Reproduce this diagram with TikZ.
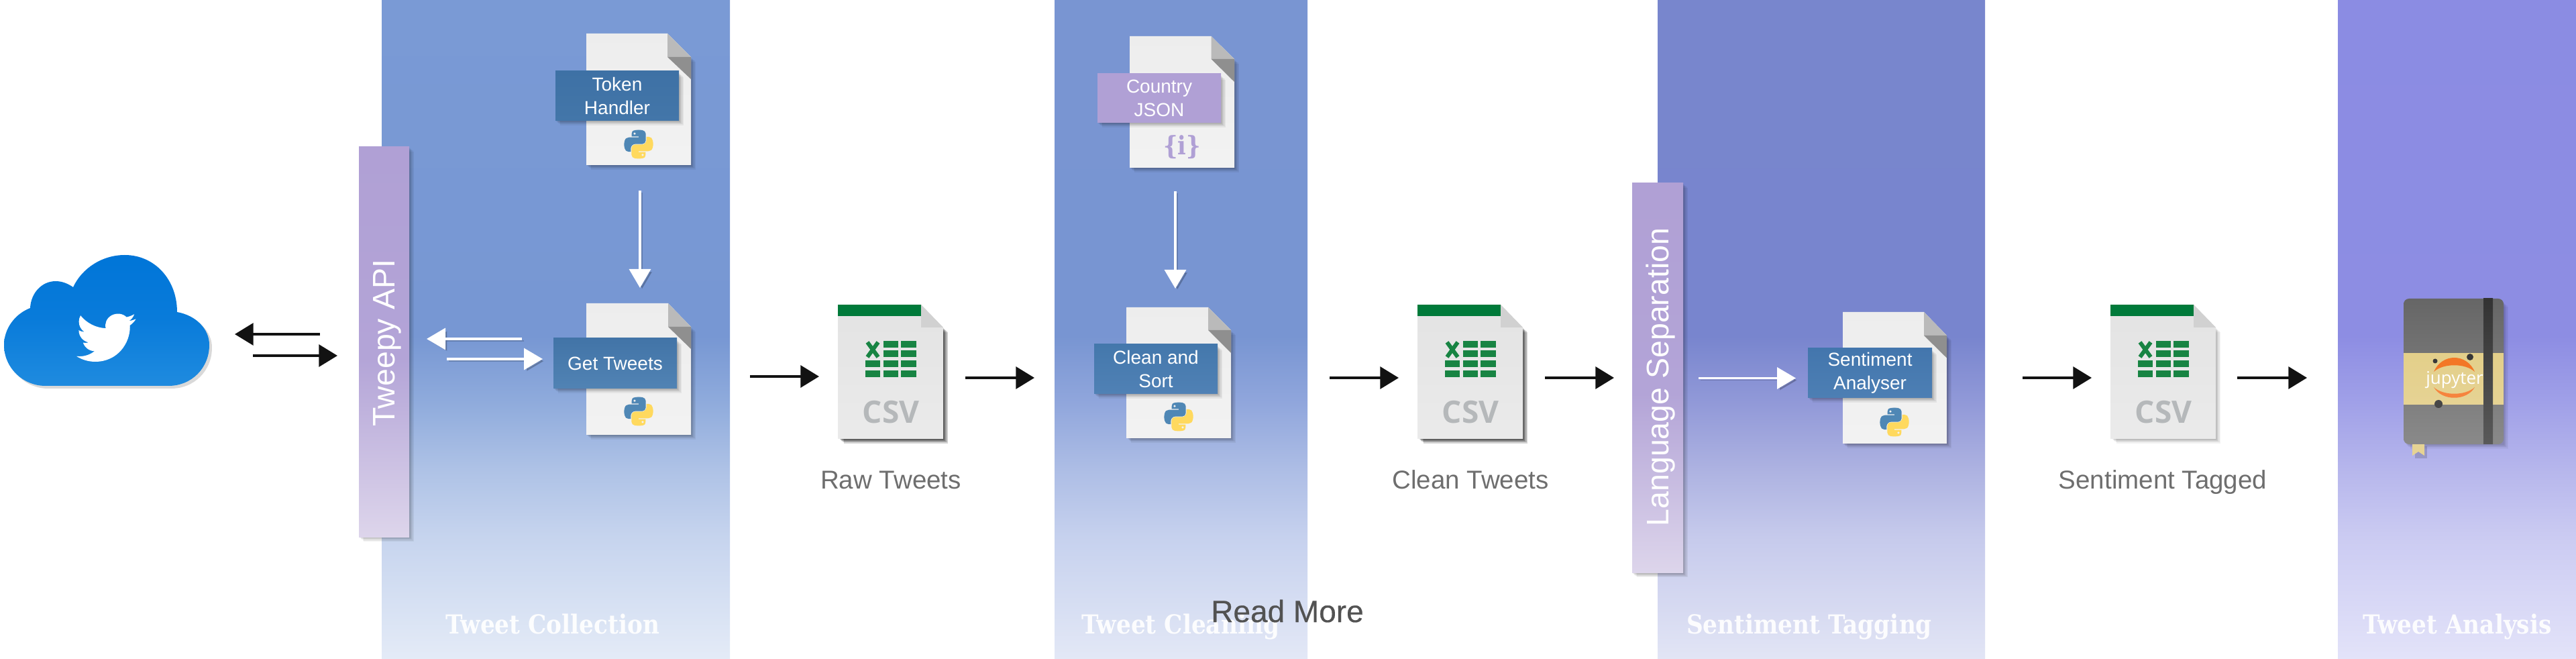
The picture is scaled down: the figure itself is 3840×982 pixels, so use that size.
\documentclass[tikz,border=0pt]{standalone}
\usepackage{fontspec}
\setmainfont{Liberation Sans}
\newfontfamily\slabfont{DejaVu Serif}[FakeStretch=0.88]
\newfontfamily\csvfont{Open Sans}
\newfontfamily\medfont{Liberation Sans}[FakeBold=0.4]
\usetikzlibrary{arrows.meta}
\newcommand\fpx[1]{\fontsize{\dimexpr #1pt/4\relax}{\dimexpr #1pt*125/400\relax}\selectfont}
\definecolor{aT}{HTML}{7A9AD5}\definecolor{aM}{HTML}{7797D3}\definecolor{aA}{HTML}{8FABDC}\definecolor{aB}{HTML}{AEC2E6}\definecolor{aC}{HTML}{C6D4EE}\definecolor{aD}{HTML}{E4EBF7}
\definecolor{bT}{HTML}{7995D2}\definecolor{bM}{HTML}{7895D2}\definecolor{bA}{HTML}{90A6DC}\definecolor{bB}{HTML}{ADBDE5}\definecolor{bC}{HTML}{C6D1EE}\definecolor{bD}{HTML}{E3E8F6}
\definecolor{cT}{HTML}{7886CD}\definecolor{cM}{HTML}{7885CE}\definecolor{cA}{HTML}{9199D8}\definecolor{cB}{HTML}{ADB2E1}\definecolor{cC}{HTML}{C6CAEC}\definecolor{cD}{HTML}{E2E5F5}
\definecolor{dT}{HTML}{8B8CE3}\definecolor{dM}{HTML}{8D8DE3}\definecolor{dA}{HTML}{A0A0E8}\definecolor{dB}{HTML}{B6B6EC}\definecolor{dC}{HTML}{CBCBF2}\definecolor{dD}{HTML}{E3E3F9}
\definecolor{barT}{HTML}{B0A0D5}\definecolor{barM}{HTML}{B3A4D7}\definecolor{barB}{HTML}{DDD5EB}
\definecolor{cloudT}{HTML}{0075D8}\definecolor{cloudB}{HTML}{1F8BDF}
\definecolor{csvgreen}{HTML}{007A3A}\definecolor{csvcell}{HTML}{188443}
\definecolor{csvword}{HTML}{B5B8BA}\definecolor{grayword}{HTML}{6E6E6E}
\definecolor{pyblue}{HTML}{4F87B5}\definecolor{pyyellow}{HTML}{FFD95E}
\definecolor{labAt}{HTML}{3E71A5}\definecolor{labAb}{HTML}{4376A9}
\definecolor{labBt}{HTML}{4274A7}\definecolor{labBb}{HTML}{5183B4}
\definecolor{labCt}{HTML}{4478AC}\definecolor{labCb}{HTML}{5081B5}
\definecolor{labDt}{HTML}{4376AD}\definecolor{labDb}{HTML}{4D7FB4}
\definecolor{tanT}{HTML}{E3CF8A}\definecolor{tanB}{HTML}{E6D394}
\definecolor{oranT}{HTML}{F37726}\definecolor{oranB}{HTML}{F6843E}
\pgfdeclareverticalshading{bandA}{100bp}{color(0bp)=(aD);color(25bp)=(aD);color(34.3bp)=(aC);color(39.4bp)=(aB);color(44.5bp)=(aA);color(49.5bp)=(aM);color(75bp)=(aT);color(100bp)=(aT)}
\pgfdeclareverticalshading{bandB}{100bp}{color(0bp)=(bD);color(25bp)=(bD);color(34.3bp)=(bC);color(39.4bp)=(bB);color(44.5bp)=(bA);color(49.5bp)=(bM);color(75bp)=(bT);color(100bp)=(bT)}
\pgfdeclareverticalshading{bandC}{100bp}{color(0bp)=(cD);color(25bp)=(cD);color(34.3bp)=(cC);color(39.4bp)=(cB);color(44.5bp)=(cA);color(49.5bp)=(cM);color(75bp)=(cT);color(100bp)=(cT)}
\pgfdeclareverticalshading{bandD}{100bp}{color(0bp)=(dD);color(25bp)=(dD);color(34.3bp)=(dC);color(39.4bp)=(dB);color(44.5bp)=(dA);color(49.5bp)=(dM);color(75bp)=(dT);color(100bp)=(dT)}
\pgfdeclareverticalshading{barshade}{100bp}{color(0bp)=(barB);color(25bp)=(barB);color(48bp)=(barM);color(75bp)=(barT);color(100bp)=(barT)}
\tikzset{
  x=0.25pt,y=-0.25pt,
  blackarrow/.style={draw=black!93,line width=0.9pt,-{Triangle[length=6.9pt,width=8.2pt]}},
  whitearrow/.style={draw=white,line width=0.85pt,-{Triangle[length=7pt,width=8pt]},
    preaction={draw=black,opacity=.16,transform canvas={shift={(0.8pt,-0.8pt)}}}},
  bandtitle/.style={font=\slabfont\bfseries\fpx{39},text=white,text opacity=.93,inner sep=0pt,anchor=base},
  bartext/.style={rotate=90,text=white,font=\fpx{46.5},inner sep=0pt,anchor=base},
  caption/.style={text=grayword,font=\fpx{38.5},inner sep=0pt,anchor=base},
  labbox/.style n args={4}{top color=#3,bottom color=#4,text=white,font=\fpx{28},align=center,inner sep=0pt,
    minimum width=#1*0.25pt,minimum height=#2*0.25pt},
}
\newcommand\softshadow[5]{%
  \foreach \i in {1,...,6}{\fill[black,opacity=#5] ({#1+\i*1.1},{#2+\i*1.1}) rectangle ({#3+\i*1.1},{#4+\i*1.1});}}
\newcommand\pylogo[2]{%
  \begin{scope}[shift={(#1-21.5,#2-21.5)},x=0.0977pt,y=-0.0977pt]
    \foreach \rot/\col in {0/pyblue,180/pyyellow}{
    \begin{scope}[rotate around={\rot:(55,55)}]
    \fill[\col,even odd rule] (54.9,0) .. controls (50.3,0) and (45.9,.4) .. (42,1.1)
      .. controls (30.6,3.1) and (28.5,7.3) .. (28.5,15) -- (28.5,25.2) -- (55.5,25.2) -- (55.5,28.6) -- (18.4,28.6)
      .. controls (10.5,28.6) and (3.6,33.3) .. (1.5,42.3)
      .. controls (-1,52.6) and (-1.1,59) .. (1.5,69.7)
      .. controls (3.4,77.7) and (8,83.3) .. (15.9,83.3) -- (25.2,83.3) -- (25.2,71)
      .. controls (25.2,62) and (33,54.1) .. (42,54.1) -- (69,54.1)
      .. controls (76.4,54.1) and (82.3,48) .. (82.3,40.6) -- (82.3,15)
      .. controls (82.3,7.7) and (76.2,2.3) .. (69,1.1)
      .. controls (64.4,.3) and (59.6,0) .. (54.9,0) -- cycle
      (39.7,14.4) circle[radius=5];
    \end{scope}}
  \end{scope}}
% x1 y1 x2 y2 foldx foldy foldy2
\newcommand\filedoc[7]{%
  \softshadow{#1}{#6}{#3}{#4}{.055}
  \shade[top color=black!7,bottom color=black!5] (#1,#2) -- (#5,#2) -- (#3,#6) -- (#3,#4) -- (#1,#4) -- cycle;
  \fill[black!27] (#5,#2) -- (#3,#6) -- (#5,#6) -- cycle;
  \fill[black!44] (#5,#6) -- (#3,#6) -- (#3,#7) -- cycle;}
% x y shadow-opacity
\newcommand\csvdoc[3]{%
  \begin{scope}[shift={(#1,#2)}]
    \softshadow{2}{34}{157}{200}{#3}
    \shade[top color=black!11,bottom color=black!8] (0,0) -- (124,0) -- (157,34) -- (157,200) -- (0,200) -- cycle;
    \fill[csvgreen] (0,0) rectangle (124,17);
    \fill[black!18] (124,0) -- (157,34) -- (124,34) -- cycle;
    \foreach \cy in {54,68,83,98}{
      \fill[csvcell] (68,\cy) rectangle (90,{\cy+10});
      \fill[csvcell] (94,\cy) rectangle (117,{\cy+10});}
    \foreach \cy in {83,98}{\fill[csvcell] (41,\cy) rectangle (63,{\cy+10});}
    \draw[csvcell,line width=1.5pt] (44,56) -- (60,78) (60,56) -- (44,78);
    \node[text=csvword,font=\csvfont\bfseries\fpx{46},inner sep=0pt] at (79,160) {CSV};
  \end{scope}}
\begin{document}
\begin{tikzpicture}
\useasboundingbox (0,0) rectangle (3840,982);
\fill[white] (0,0) rectangle (3840,982);
% bands
\shade[shading=bandA] (569,0) rectangle (1088,982);
\shade[shading=bandB] (1572,0) rectangle (1949,982);
\shade[shading=bandC] (2471,0) rectangle (2959,982);
\shade[shading=bandD] (3485,0) rectangle (3840,982);
% band titles
\node[bandtitle] (t1) at (824,944) {Tweet Collection};
\node[bandtitle] (t2) at (1760,944) {Tweet Cleaning};
\node[bandtitle] (t3) at (2697,944) {Sentiment Tagging};
\node[bandtitle] (t4) at (3663,944) {Tweet Analysis};
% cloud
\begin{scope}[shift={(4,4)}]
\foreach \o in {.05,.05,.05}{\fill[black,opacity=\o] (68,575) .. controls (34,575) and (6,548) .. (6,514) .. controls (6,490) and (22,468) .. (45,459) -- (264,465) .. controls (292,470) and (312,490) .. (312,514) .. controls (312,548) and (286,575) .. (251,575) -- cycle;}
\end{scope}
\shade[top color=cloudT,bottom color=cloudB,middle color=cloudT!70!cloudB]
  (68,575) .. controls (34,575) and (6,548) .. (6,514) .. controls (6,490) and (22,468) .. (45,459)
  .. controls (46,437) and (62,419) .. (83,419) .. controls (93,419) and (102,423) .. (109,428)
  .. controls (122,400) and (152,380) .. (186,380) .. controls (230,380) and (264,416) .. (264,465)
  .. controls (292,470) and (312,490) .. (312,514) .. controls (312,548) and (286,575) .. (251,575) -- cycle;
\begin{scope}[shift={(114,458.5)},x=0.925pt,y=-0.925pt]
\fill[white] (23.953,4.57) .. controls (23.1,4.95) and (22.1,5.2) .. (21.128,5.345)
  .. controls (22.15,4.75) and (22.9,3.8) .. (23.291,2.622)
  .. controls (22.34,3.177) and (21.286,3.581) .. (20.164,3.806)
  .. controls (18.7,2.3) and (16.2,2.0) .. (14.1,3.1)
  .. controls (12.2,4.2) and (11.3,6.2) .. (11.78,8.288)
  .. controls (7.69,8.095) and (4.067,6.13) .. (1.64,3.162)
  .. controls (1.2,3.9) and (0.974,4.75) .. (0.974,5.637)
  .. controls (0.974,7.347) and (1.844,8.85) .. (3.162,9.733)
  .. controls (2.35,9.7) and (1.6,9.5) .. (0.934,9.117) -- (0.934,9.177)
  .. controls (0.934,11.5) and (2.6,13.5) .. (4.88,14.004)
  .. controls (4.15,14.2) and (3.4,14.25) .. (2.668,14.089)
  .. controls (3.3,16.05) and (5.1,17.45) .. (7.272,17.506)
  .. controls (5.6,18.85) and (3.5,19.6) .. (1.17,19.611)
  .. controls (0.78,19.611) and (0.391,19.588) .. (0,19.544)
  .. controls (2.2,20.95) and (4.8,21.753) .. (7.557,21.753)
  .. controls (16.61,21.753) and (21.555,14.257) .. (21.555,7.768)
  .. controls (21.555,7.558) and (21.555,7.348) .. (21.54,7.138)
  .. controls (22.5,6.44) and (23.35,5.58) .. (23.953,4.57) -- cycle;
\end{scope}
% Token Handler file
\filedoc{874}{50}{1030}{246}{995}{85}{118}
\softshadow{828}{108}{1012}{180}{.05}
\node[labbox={184}{74}{labAt}{labAb}] (token) at (920,143) {Token\\Handler};
\pylogo{952}{215}
% Get Tweets file
\filedoc{874}{452}{1030}{648}{996}{487}{520}
\softshadow{825}{506}{1009}{579}{.05}
\node[labbox={184}{75}{labBt}{labBb}] (gettweets) at (917,541.5) {Get Tweets};
\pylogo{952}{613}
% Tweepy bar
\softshadow{535}{219}{610}{800}{.05}
\shade[shading=barshade] (535,219) rectangle (610,800);
\node[bartext] (tweepy) at (588,511) {Tweepy API};
% Raw tweets
\csvdoc{1249}{454}{.16}
\node[caption] (raw) at (1328,729) {Raw Tweets};
% Country JSON
\filedoc{1684}{54}{1840}{250}{1805.5}{88}{122}
\softshadow{1636}{112}{1820}{183}{.05}
\node[labbox={184}{73}{barT}{barT}] (country) at (1728,146.5) {Country\\JSON};
\node[text=barT,font=\slabfont\bfseries\fpx{38},inner sep=0pt] (jsonicon) at (1762,219) {\{i\}};
% Clean and Sort
\filedoc{1679.5}{458}{1835}{653}{1801}{492}{526}
\softshadow{1631}{515}{1815}{587}{.05}
\node[labbox={184}{74}{labCt}{labCb}] (clean) at (1723,550) {Clean and\\Sort};
\pylogo{1757}{621}
% Clean tweets
\csvdoc{2113}{454}{.16}
\node[caption] (cleantw) at (2192,729) {Clean Tweets};
% Sentiment analyser
\filedoc{2747}{465}{2902}{661}{2868}{500}{533.5}
\softshadow{2695}{521}{2880}{593}{.05}
\node[labbox={185}{74}{labDt}{labDb}] (senti) at (2787.5,556) {Sentiment\\Analyser};
\pylogo{2824}{629}
% Language bar
\softshadow{2433}{273}{2509}{853.5}{.05}
\shade[shading=barshade] (2433,273) rectangle (2509,853.5);
\node[bartext] (lang) at (2487,562) {Language Separation};
% Sentiment tagged
\csvdoc{3146}{454}{.05}
\node[caption] (tagged) at (3224,729) {Sentiment Tagged};
% Notebook
\softshadow{3586}{450}{3732}{662}{.04}
\fill[black,opacity=.15] (3600,665) rectangle (3618,683);
\fill[tanB] (3596,660) -- (3614,660) -- (3614,679) -- (3605,673) -- (3596,679) -- cycle;
\shade[top color=black!60,bottom color=black!46,rounded corners=2pt] (3583,445) rectangle (3732,662);
\shade[top color=tanT,bottom color=tanB] (3583,527) rectangle (3732,603);
\shade[top color=black!80,bottom color=black!65] (3702,445) rectangle (3716,662);
\fill[oranT] (3628,554) .. controls (3640,526) and (3677,526) .. (3689,554) .. controls (3675,541) and (3642,541) .. cycle;
\fill[oranB] (3628,577) .. controls (3640,598) and (3677,598) .. (3689,577) .. controls (3675,590) and (3642,590) .. cycle;
\fill[black!78] (3630,538) circle[radius=3.5];
\fill[black!78] (3682,532) circle[radius=5];
\fill[black!72] (3635,602) circle[radius=6];
\node[text=white,font=\csvfont\fpx{26},inner sep=0pt] (jupyter) at (3659,566) {jupyter};
% Read more
\node[text=black!68,font=\medfont\fpx{46},inner sep=0pt,anchor=base] (readmore) at (1919,927) {Read More};
% connector ends
\coordinate (c1a) at (477,498); \coordinate (c1b) at (350,498);
\coordinate (c2a) at (377,530); \coordinate (c2b) at (503,530);
\coordinate (w1a) at (778,505); \coordinate (w1b) at (636,505);
\coordinate (w2a) at (666,535); \coordinate (w2b) at (809,535);
\coordinate (w3a) at (954,284); \coordinate (w3b) at (954,429);
\coordinate (w4a) at (1752,285); \coordinate (w4b) at (1752,430);
\coordinate (w5a) at (2532,563.5); \coordinate (w5b) at (2677,563.5);
\coordinate (k1a) at (1118,561); \coordinate (k1b) at (1221,561);
\coordinate (k2a) at (1439,563); \coordinate (k2b) at (1542,563);
\coordinate (k3a) at (1982,563); \coordinate (k3b) at (2085,563);
\coordinate (k4a) at (2303,563); \coordinate (k4b) at (2406,563);
\coordinate (k5a) at (3015,563); \coordinate (k5b) at (3118,563);
\coordinate (k6a) at (3335,563); \coordinate (k6b) at (3439,563);
\foreach \s/\e in {c1a/c1b,c2a/c2b,k1a/k1b,k2a/k2b,k3a/k3b,k4a/k4b,k5a/k5b,k6a/k6b}{\draw[blackarrow] (\s) -- (\e);}
\foreach \s/\e in {w1a/w1b,w2a/w2b,w3a/w3b,w4a/w4b,w5a/w5b}{\draw[whitearrow] (\s) -- (\e);}
\end{tikzpicture}
\end{document}
